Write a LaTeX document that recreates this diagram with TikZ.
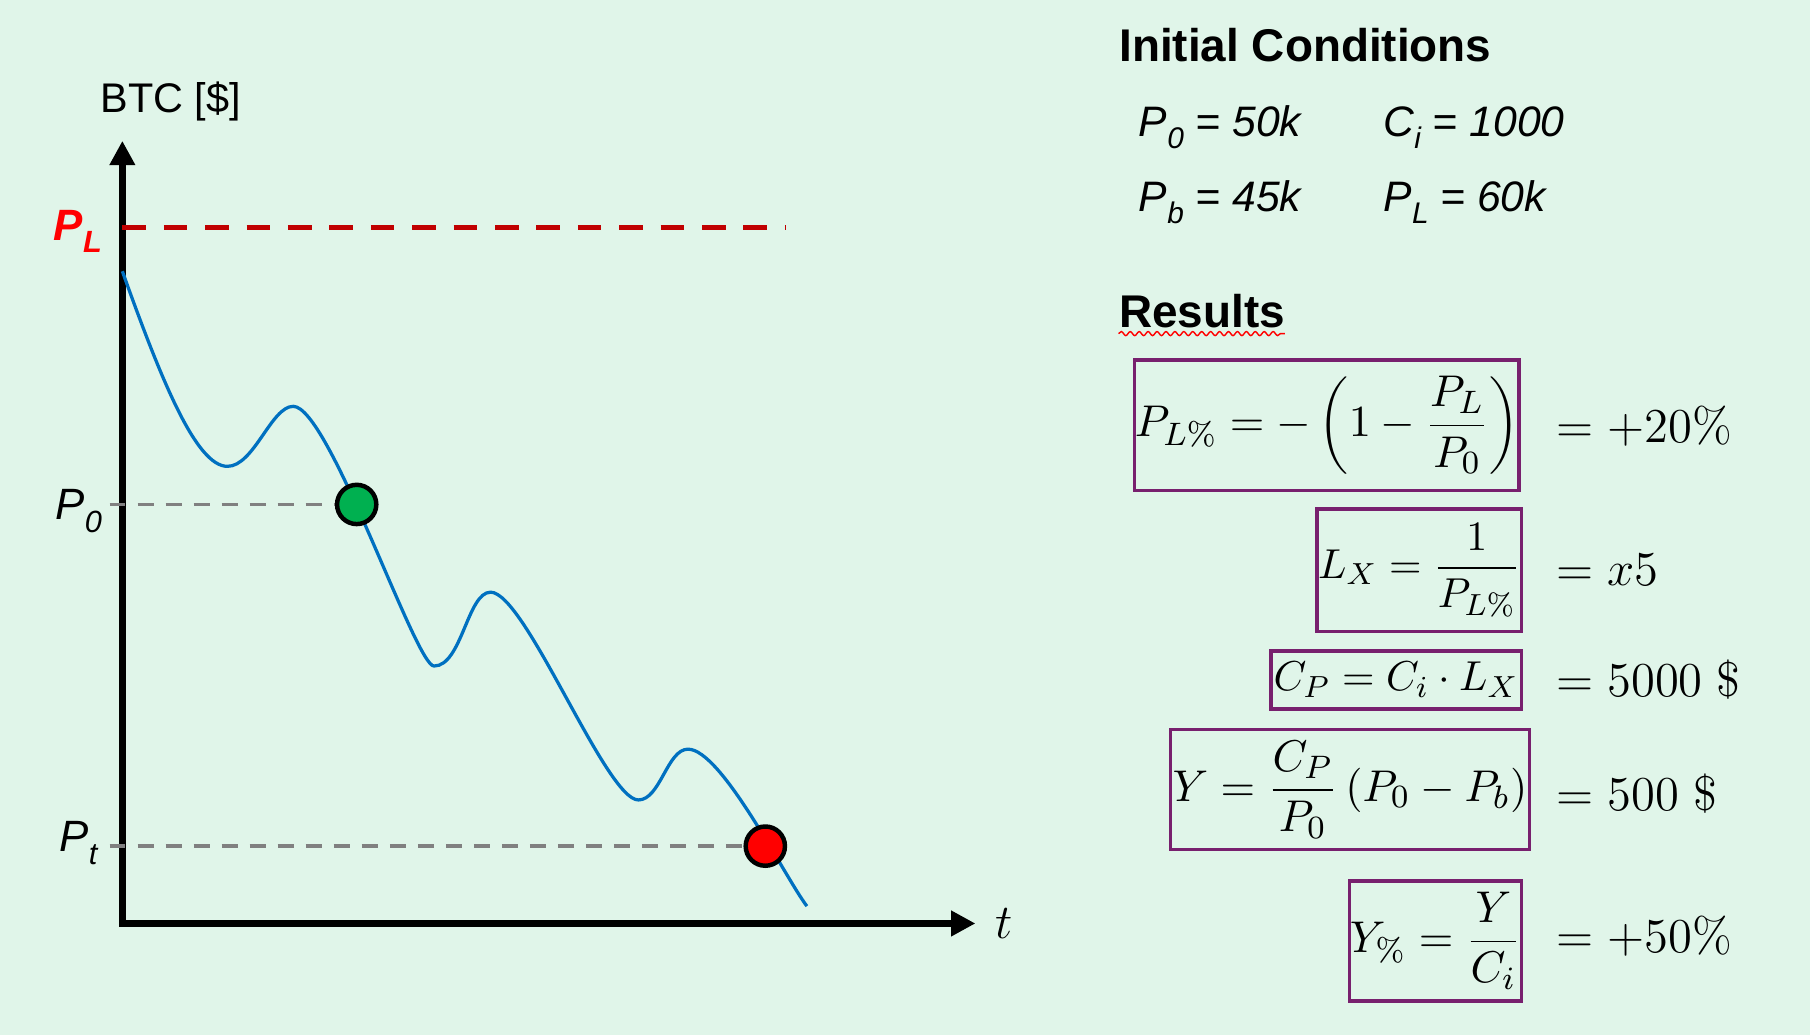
\documentclass[tikz,border=0pt]{standalone}
\usepackage[no-math]{fontspec}
\setmainfont{Liberation Sans}
\usetikzlibrary{arrows.meta,decorations.pathmorphing}
\definecolor{bgmint}{RGB}{224,245,233}
\definecolor{curveblue}{RGB}{0,112,192}
\definecolor{limred}{RGB}{192,0,0}
\definecolor{labred}{RGB}{255,0,0}
\definecolor{guidegray}{RGB}{128,128,128}
\definecolor{entrygreen}{RGB}{0,176,80}
\definecolor{boxpurple}{RGB}{120,32,110}
\newcommand\lowsub[1]{\raisebox{-0.55ex}{\scalebox{0.7}{#1}}}
\begin{document}
\begin{tikzpicture}[x=0.01cm,y=-0.01cm,
  axisline/.style={line width=1.7pt,line join=miter,{Triangle[length=6pt,width=6pt]}-{Triangle[length=6pt,width=6pt]}},
  pricecurve/.style={draw=curveblue,line width=0.8pt},
  limitline/.style={draw=limred,line width=1.4pt,dash pattern=on 5.8pt off 4.4pt},
  guideline/.style={draw=guidegray,line width=0.85pt,dash pattern=on 3.9pt off 3pt},
  marker/.style={circle,draw=black,line width=1.1pt,minimum size=0.34cm,inner sep=0pt},
  axlabel/.style={anchor=base east,inner sep=0pt,font=\fontsize{10.8}{13}\selectfont\itshape},
  heading/.style={anchor=base west,inner sep=0pt,font=\fontsize{11.3}{14}\selectfont\bfseries},
  condtext/.style={anchor=base west,inner sep=0pt,font=\fontsize{10.5}{13}\selectfont\itshape},
  eqbox/.style={draw=boxpurple,line width=0.9pt,inner sep=0pt,font=\fontsize{11.4}{14}\selectfont},
  resulttext/.style={anchor=base west,inner sep=0pt,font=\fontsize{12.5}{15}\selectfont}]
% background
\fill[bgmint] (0,0) rectangle (1568,897);
\useasboundingbox (0,0) rectangle (1568,897);

% axes
\coordinate (origin) at (106,800);
\coordinate (ytip) at (106,122);
\coordinate (xtip) at (845,800);
\draw[axisline] (ytip) -- (origin) -- (xtip);
\node[inner sep=0pt,font=\fontsize{10.2}{12}\selectfont] (btc) at (148,88) {BTC [\$]};
\node[inner sep=0pt,font=\fontsize{12.5}{15}\selectfont] (tlab) at (870,800) {$t$};

% liquidation line
\coordinate (plstart) at (106,197);
\coordinate (plend) at (681,197);
\draw[limitline] (plstart) -- (plend);
\node[axlabel,text=labred,font=\fontsize{10.8}{13}\selectfont\bfseries\itshape] (pl) at (89,208) {P\lowsub{L}};

% price curve
\draw[pricecurve] (106,235) .. controls (140,330) and (170,404) .. (197,404)
  .. controls (220,404) and (235,352) .. (254,352)
  .. controls (285,352) and (360,577) .. (376,577)
  .. controls (400,577) and (405,513) .. (425,513)
  .. controls (455,513) and (525,693) .. (553,693)
  .. controls (572,693) and (578,649) .. (596,649)
  .. controls (625,649) and (680,760) .. (699,785);

% entry / exit points
\node[marker,fill=entrygreen] (entry) at (309,437) {};
\node[marker,fill=labred] (exit) at (663,733) {};
\coordinate (p0start) at (95,437);
\coordinate (ptstart) at (95,733);
\draw[guideline] (p0start) -- (entry.west);
\draw[guideline] (ptstart) -- (exit.west);
\node[axlabel] (p0) at (89,450) {P\lowsub{0}};
\node[axlabel] (pt) at (85,738) {P\lowsub{t}};

% initial conditions
\node[heading] (ichead) at (969,53) {Initial Conditions};
\node[condtext] (c1) at (986,118) {P\lowsub{0} = 50k};
\node[condtext] (c2) at (1198,118) {C\lowsub{i} = 1000};
\node[condtext] (c3) at (986,183) {P\lowsub{b} = 45k};
\node[condtext] (c4) at (1198,183) {P\lowsub{L} = 60k};

% results
\node[heading] (reshead) at (969,284) {Results};
\coordinate (sqa) at (969,289);
\coordinate (sqb) at (1113,289);
\draw[labred,line width=0.35pt,decorate,decoration={snake,amplitude=0.5pt,segment length=2.2pt}] (sqa) -- (sqb);

\node[eqbox,minimum width=3.33cm,minimum height=1.13cm] (eq1) at (1149.5,368.5)
  {$\displaystyle P_{L\%} = -\left(1-\frac{P_L}{P_0}\right)$};
\node[eqbox,minimum width=1.77cm,minimum height=1.06cm] (eq2) at (1229.5,494)
  {\scalebox{0.94}{$\displaystyle L_X = \frac{1}{P_{L\%}}$}};
\node[eqbox,minimum width=2.17cm,minimum height=0.50cm] (eq3) at (1209.5,589)
  {\scalebox{0.94}{$C_P = C_i\cdot L_X$}};
\node[eqbox,minimum width=3.11cm,minimum height=1.04cm] (eq4) at (1169.5,684)
  {$\displaystyle Y = \frac{C_P}{P_0}\,(P_0 - P_b)$};
\node[eqbox,minimum width=1.49cm,minimum height=1.04cm] (eq5) at (1243.5,815)
  {$\displaystyle Y_{\%} = \frac{Y}{C_i}$};

\node[resulttext] (r1) at (1348,383) {$= +20\%$};
\node[resulttext] (r2) at (1348,507) {$= x5$};
\node[resulttext] (r3) at (1348,603) {$= 5000\ \$$};
\node[resulttext] (r4) at (1348,702) {$= 500\ \$$};
\node[resulttext] (r5) at (1348,825) {$= +50\%$};
\end{tikzpicture}
\end{document}
